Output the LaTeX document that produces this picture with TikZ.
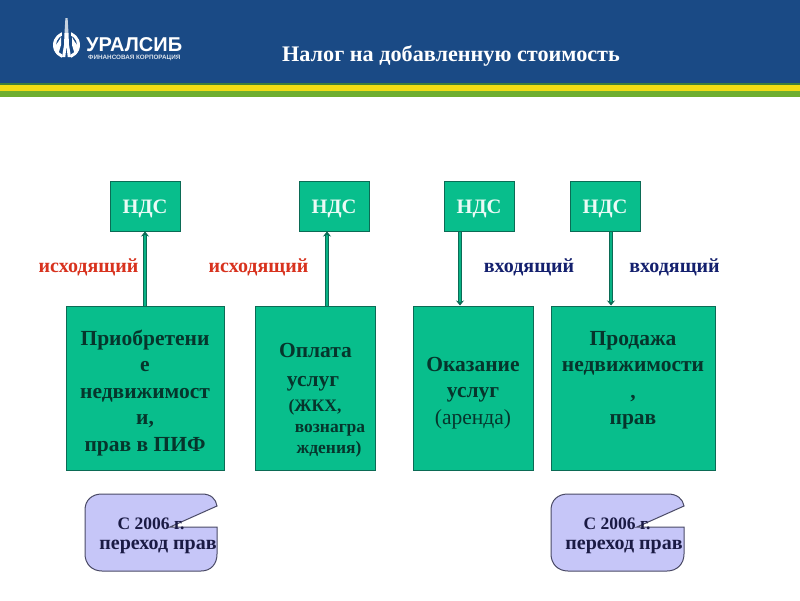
\documentclass[tikz,border=0pt]{standalone}
\usepackage{fontspec}
\setmainfont{Liberation Serif}
\newfontfamily\logofont{Liberation Sans}
\definecolor{hdrblue}{HTML}{1A4A85}
\definecolor{bandyellow}{HTML}{F2DC14}
\definecolor{bandgreen}{HTML}{6FAE30}
\definecolor{banddark}{HTML}{3F7F3A}
\definecolor{boxgreen}{HTML}{08BE8C}
\definecolor{boxedge}{HTML}{0B6B55}
\definecolor{txtdark}{HTML}{06352C}
\definecolor{outred}{HTML}{D8321E}
\definecolor{innavy}{HTML}{14206E}
\definecolor{calloutfill}{HTML}{C6C6F8}
\definecolor{calloutedge}{HTML}{4A4A66}
\definecolor{calloutink}{HTML}{1A1A44}
\usetikzlibrary{arrows.meta}
\tikzset{
  ndsbox/.style={draw=boxedge,line width=1pt,fill=boxgreen,minimum width=70pt,minimum height=50pt,inner sep=0pt,
     text=white!92!boxgreen,text height=14pt,text depth=0pt,font=\fontsize{20.5}{24}\selectfont\bfseries},
  mainbox/.style={draw=boxedge,line width=1pt,fill=boxgreen,inner sep=0pt},
  maintext/.style={inner sep=0pt,align=center,text=txtdark,font=\fontsize{21.5}{26.5}\selectfont\bfseries},
  boxtext/.style={inner sep=0pt,text=txtdark,font=\fontsize{21.5}{24}\selectfont\bfseries},
  smalltext/.style={inner sep=0pt,text=txtdark,font=\fontsize{17.5}{20}\selectfont\bfseries},
  flowline/.style={draw=boxedge,line width=1.1pt,double=boxgreen!85!boxedge,double distance=1.6pt,-{Stealth[length=5pt,width=8pt]}},
  outlabel/.style={inner sep=0pt,text=outred,font=\fontsize{20}{22}\selectfont\bfseries},
  inlabel/.style={inner sep=0pt,text=innavy,font=\fontsize{20}{22}\selectfont\bfseries},
  calloutshape/.style={draw=calloutedge,line width=1pt,fill=calloutfill},
  callouttext/.style={inner sep=0pt,text=calloutink},
  calloutone/.style={callouttext,font=\fontsize{17.5}{20}\selectfont\bfseries},
  callouttwo/.style={callouttext,font=\fontsize{20}{22}\selectfont\bfseries},
}
\begin{document}
\begin{tikzpicture}[x=1pt,y=-1pt]
\useasboundingbox (0,0) rectangle (800,600);
\fill[white] (0,0) rectangle (800,600);
% header
\fill[hdrblue] (0,0) rectangle (800,83);
\fill[banddark] (0,83) rectangle (800,85);
\fill[bandyellow] (0,85) rectangle (800,91);
\fill[bandgreen] (0,91) rectangle (800,97);
% logo
\fill[white,even odd rule] (66.5,45) circle[radius=13.5] (66.5,45) circle[radius=10.5];
\fill[hdrblue] (62,30) rectangle (71,60);
\fill[white] (54,47) .. controls (57,44) and (59,41) .. (61,37) -- (61,45) -- (58,55) .. controls (55,53) and (54,50) .. (54,47) -- cycle;
\fill[white] (79,47) .. controls (76,44) and (74,41) .. (72,37) -- (72,45) -- (75,55) .. controls (78,53) and (79,50) .. (79,47) -- cycle;
\fill[white!75!hdrblue] (65.4,18) -- (67.6,18) -- (68.5,33) -- (66.5,33) -- (64.5,33) -- cycle;
\fill[white] (64.5,33) -- (68.5,33) -- (69,45) -- (71,57) -- (67.7,57) -- (66.5,46) -- (65.3,57) -- (62,57) -- (64,45) -- cycle;
\node[inner sep=0pt,anchor=west,text=white] (logoname) at (86,44.5) {\logofont\bfseries\fontsize{20}{22}\selectfont УРАЛСИБ};
\node[inner sep=0pt,anchor=west,text=white!85!hdrblue] (logosub) at (88,57.5) {\logofont\bfseries\fontsize{6.3}{7}\selectfont ФИНАНСОВАЯ КОРПОРАЦИЯ};
\node[inner sep=0pt,text=white] (title) at (451,56) {\fontsize{22.2}{24}\selectfont\bfseries Налог на добавленную стоимость};
% NDS boxes
\node[ndsbox] (n1) at (145,206) {НДС};
\node[ndsbox] (n2) at (334,206) {НДС};
\node[ndsbox] (n3) at (479,206) {НДС};
\node[ndsbox] (n4) at (605,206) {НДС};
% main boxes
\node[mainbox,minimum width=158pt,minimum height=164pt] (b1) at (145,388) {};
\node[mainbox,minimum width=120pt,minimum height=164pt] (b2) at (315,388) {};
\node[mainbox,minimum width=120pt,minimum height=164pt] (b3) at (473,388) {};
\node[mainbox,minimum width=164pt,minimum height=164pt] (b4) at (633,388) {};
\node[maintext] (t1a) at (145,393) {Приобретени\\е\\недвижимост\\и,\\прав в ПИФ};
\node[maintext] (t3a) at (473,393) {Оказание\\услуг\\{\mdseries (аренда)}};
\node[maintext] (t4a) at (633,380) {Продажа\\недвижимости\\,\\прав};
\node[boxtext] (t1) at (315.5,350) {Оплата};
\node[boxtext] (t2) at (313,384) {услуг};
\node[smalltext] (t3) at (315,407) {(ЖКХ,};
\node[smalltext] (t4) at (330,430) {вознагра};
\node[smalltext] (t5) at (329,449) {ждения)};
% arrows
\coordinate (x1) at (145,0);
\coordinate (x2) at (327,0);
\coordinate (x3) at (460,0);
\coordinate (x4) at (611,0);
\draw[flowline] (b1.north -| x1) -- (n1.south -| x1);
\draw[flowline] (b2.north -| x2) -- (n2.south -| x2);
\draw[flowline] (n3.south -| x3) -- (b3.north -| x3);
\draw[flowline] (n4.south -| x4) -- (b4.north -| x4);
% labels
\node[outlabel] (l1) at (88.5,267) {исходящий};
\node[outlabel] (l2) at (258.5,267) {исходящий};
\node[inlabel] (l3) at (529,267) {входящий};
\node[inlabel] (l4) at (674.5,267) {входящий};
% callouts
\draw[calloutshape] (85,510) .. controls (85,500) and (92,494) .. (102,494) -- (202,494)
  .. controls (211,494) and (216,499) .. (217,506) -- (170,527) -- (217,527) -- (217,554)
  .. controls (217,564) and (211,571) .. (201,571) -- (102,571) .. controls (92,571) and (85,564) .. (85,554) -- cycle;
\node[calloutone] (c1) at (151,524) {С 2006 г.};
\node[callouttwo] (c1b) at (158,547) {переход прав};
\draw[calloutshape] (551,510) .. controls (551,500) and (558,494) .. (568,494) -- (668,494)
  .. controls (677,494) and (683,499) .. (684,506) -- (637,527) -- (684,527) -- (684,554)
  .. controls (684,564) and (677,571) .. (667,571) -- (568,571) .. controls (558,571) and (551,564) .. (551,554) -- cycle;
\node[calloutone] (c2) at (617,524) {С 2006 г.};
\node[callouttwo] (c2b) at (624,547) {переход прав};
\end{tikzpicture}
\end{document}
